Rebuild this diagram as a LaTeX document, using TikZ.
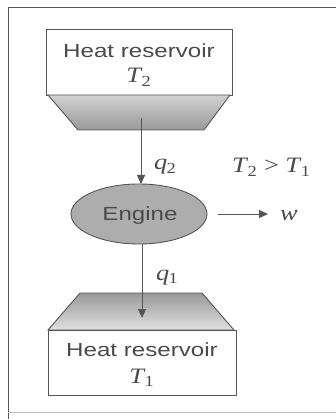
\documentclass[tikz,border=0pt]{standalone}
\usepackage{fontspec}
\setmainfont{Liberation Serif}
\setsansfont{Liberation Sans}
\usetikzlibrary{shapes.geometric,arrows.meta}
\definecolor{ink}{HTML}{555555}
\definecolor{txt}{HTML}{4A4A4A}
\newcommand{\vsym}[2]{\textit{#1}\textsubscript{\kern-0.05em\upshape #2}}
\begin{document}
\begin{tikzpicture}[x=1pt,y=-1pt,
  line/.style={draw=ink,line width=0.9pt},
  flow/.style={draw=ink,line width=0.9pt,-{Triangle[length=9pt,width=8pt]}},
  lbl/.style={text=txt,xscale=1.27,inner sep=0pt,font=\sffamily\fontsize{19}{21}\selectfont},
  mth/.style={text=txt,xscale=1.2,inner sep=0pt,font=\fontsize{22}{24}\selectfont}]
\useasboundingbox (0,0) rectangle (336,419);
\fill[white] (0,0) rectangle (336,419);
% frame
\draw[ink,line width=1pt] (338,8) -- (8,8) -- (8,419);
\draw[black!25,line width=0.6pt] (8,412) -- (338,412);
% top reservoir
\node[line,fill=white,minimum width=186pt,minimum height=66pt,inner sep=0pt] (top) at (139,62) {};
\node[lbl,anchor=base] (toptxt) at (139,57.5) {Heat reservoir};
\node[mth,anchor=base] (T2) at (139,83) {\vsym{T}{2}};
\shade[top color=black!18,bottom color=black!40,draw=ink,line width=0.9pt]
  (48,95) -- (230,95) -- (204,130) -- (78,130) -- cycle;
\coordinate (topbot) at (141,118);
% engine
\node[ellipse,draw=ink,line width=0.9pt,fill=black!32,minimum width=136pt,minimum height=60pt,inner sep=0pt] (eng) at (139,214) {};
\node[lbl,anchor=base] (engtxt) at (140,220) {Engine};
\draw[flow] (topbot) -- (141,184);
\node[mth,anchor=base west] (q2) at (154,170) {\vsym{q}{2}};
\node[mth,anchor=base west] (cmp) at (232,173) {\vsym{T}{2} \textgreater{} \vsym{T}{1}};
\coordinate (wstart) at (218,214);
\coordinate (wend) at (268,214);
\draw[flow] (wstart) -- (wend);
\node[mth,anchor=base west] (w) at (280,220) {\textit{w}};
% bottom reservoir
\shade[top color=black!40,bottom color=black!12,draw=ink,line width=0.9pt]
  (80,293) -- (202,293) -- (234,330) -- (48,330) -- cycle;
\node[line,fill=white,minimum width=188pt,minimum height=65pt,inner sep=0pt] (bot) at (142,362.5) {};
\node[lbl,anchor=base] (bottxt) at (142,356) {Heat reservoir};
\node[mth,anchor=base] (T1) at (142,383) {\vsym{T}{1}};
\draw[flow] (eng.south) ++(3,0) coordinate (es) -- (142,318);
\node[mth,anchor=base west] (q1) at (156,280) {\vsym{q}{1}};
\end{tikzpicture}
\end{document}
